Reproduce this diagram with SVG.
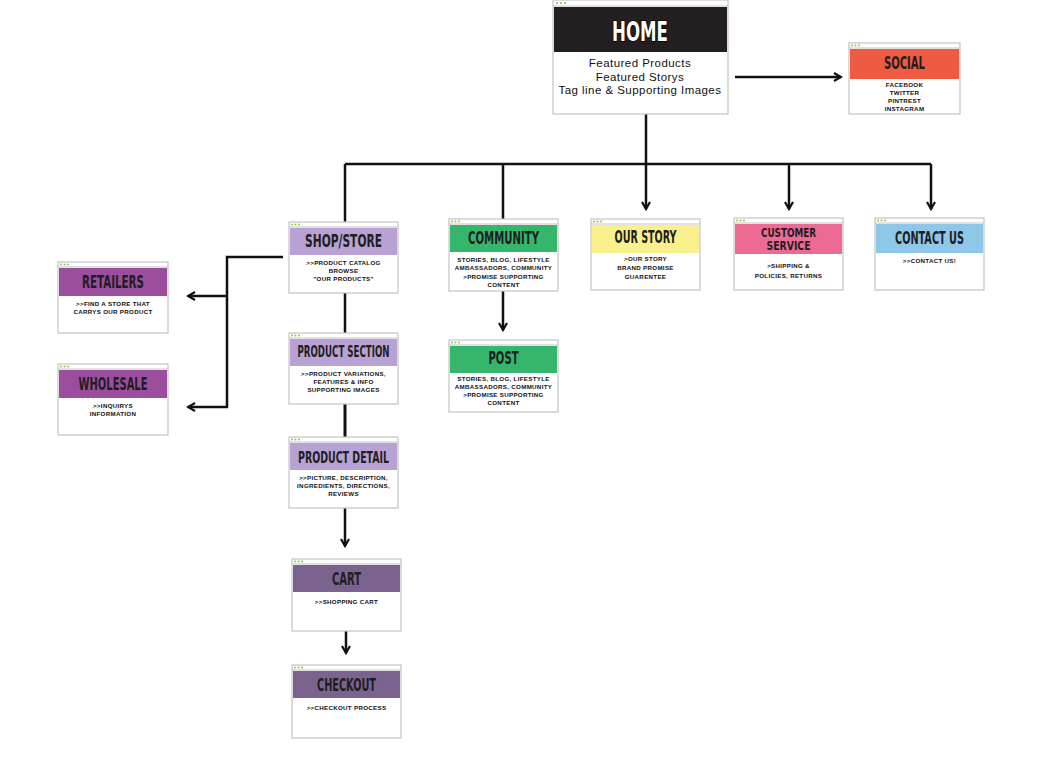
<svg xmlns="http://www.w3.org/2000/svg" width="1048" height="766" viewBox="0 0 1048 766">
<defs>
<marker id="arr" viewBox="0 0 10 10" refX="8" refY="5" markerWidth="10" markerHeight="10" markerUnits="userSpaceOnUse" orient="auto">
<path d="M1,1 L8,5 L1,9" fill="none" stroke="#111" stroke-width="2.2"/>
</marker>
</defs>
<style>
.box{fill:#fff;stroke:#c4c4c4;stroke-width:1.2}
.strip{stroke:#c4c4c4;stroke-width:1}
.dot{fill:#8cc63f}
.ttl{font-family:"Liberation Sans Narrow","DejaVu Sans Condensed","Liberation Sans",sans-serif;font-weight:bold;fill:#1e1e1e;text-anchor:middle;dominant-baseline:central}
.body{font-family:"Liberation Sans","DejaVu Sans",sans-serif;font-weight:bold;font-size:6.2px;letter-spacing:0.3px;fill:#111;text-anchor:middle;dominant-baseline:central}
.hb{font-family:"Liberation Sans","DejaVu Sans",sans-serif;font-size:11.5px;letter-spacing:0.45px;fill:#111;text-anchor:middle;dominant-baseline:central}
.con{fill:none;stroke:#111;stroke-width:2.5}
</style>
<rect width="1048" height="766" fill="#fff"/>

<g id="connectors">
<path class="con" d="M735,77 H841" marker-end="url(#arr)"/>
<path class="con" d="M646,114 V164"/>
<path class="con" d="M345,164 H931"/>
<path class="con" d="M345,164 V222"/>
<path class="con" d="M503,164 V219"/>
<path class="con" d="M646,164 V209" marker-end="url(#arr)"/>
<path class="con" d="M789,164 V209" marker-end="url(#arr)"/>
<path class="con" d="M931,164 V209" marker-end="url(#arr)"/>
<path class="con" d="M345,293 V333"/>
<path class="con" d="M345,404 V437" style="stroke-width:3"/>
<path class="con" d="M345,508 V546" marker-end="url(#arr)"/>
<path class="con" d="M346,614 V653" marker-end="url(#arr)"/>
<path class="con" d="M503,291 V330" marker-end="url(#arr)"/>
<path class="con" d="M283,257 H227 V407 H188" marker-end="url(#arr)"/>
<path class="con" d="M227,296 H188" marker-end="url(#arr)"/>
</g>

<g id="home">
<rect class="box" x="553" y="0" width="175" height="114"/>
<line class="strip" x1="553" y1="6" x2="728" y2="6"/>
<circle class="dot" cx="557" cy="3" r="1.1"/><circle class="dot" cx="561" cy="3" r="1.1"/><circle class="dot" cx="565" cy="3" r="1.1"/>
<rect x="554" y="7" width="173" height="45" fill="#231f20"/>
<text class="ttl" x="640" y="31" font-size="27" textLength="56" lengthAdjust="spacingAndGlyphs" style="fill:#fff;stroke:#000;stroke-width:1.5;paint-order:stroke">HOME</text>
<text class="hb" x="640" y="63">Featured Products</text>
<text class="hb" x="640" y="77">Featured Storys</text>
<text class="hb" x="640" y="90">Tag line &amp; Supporting Images</text>
</g>

<g id="social">
<rect class="box" x="849" y="43" width="111" height="71"/>
<line class="strip" x1="849" y1="48" x2="960" y2="48"/>
<circle class="dot" cx="852" cy="45.5" r="1"/><circle class="dot" cx="855.5" cy="45.5" r="1"/><circle class="dot" cx="859" cy="45.5" r="1"/>
<rect x="850" y="49" width="109" height="30" fill="#ee5a42"/>
<text class="ttl" x="904.5" y="63" font-size="17" textLength="41" lengthAdjust="spacingAndGlyphs">SOCIAL</text>
<text class="body" x="904.5" y="84">FACEBOOK</text>
<text class="body" x="904.5" y="92">TWITTER</text>
<text class="body" x="904.5" y="100">PINTREST</text>
<text class="body" x="904.5" y="108">INSTAGRAM</text>
</g>

<g id="shop">
<rect class="box" x="289" y="222" width="109" height="71"/>
<line class="strip" x1="289" y1="227" x2="398" y2="227"/>
<circle class="dot" cx="292" cy="224.5" r="1"/><circle class="dot" cx="295.5" cy="224.5" r="1"/><circle class="dot" cx="299" cy="224.5" r="1"/>
<rect x="290" y="228" width="107" height="27" fill="#b7a2d3"/>
<text class="ttl" x="343.5" y="240" font-size="18" textLength="77" lengthAdjust="spacingAndGlyphs">SHOP/STORE</text>
<text class="body" x="343.5" y="262">&gt;&gt;PRODUCT CATALOG</text>
<text class="body" x="343.5" y="270">BROWSE</text>
<text class="body" x="343.5" y="278">"OUR PRODUCTS"</text>
</g>

<g id="community">
<rect class="box" x="449" y="219" width="109" height="72"/>
<line class="strip" x1="449" y1="224" x2="558" y2="224"/>
<circle class="dot" cx="452" cy="221.5" r="1"/><circle class="dot" cx="455.5" cy="221.5" r="1"/><circle class="dot" cx="459" cy="221.5" r="1"/>
<rect x="450" y="225" width="107" height="27" fill="#36b56d"/>
<text class="ttl" x="503.5" y="238" font-size="17" textLength="71" lengthAdjust="spacingAndGlyphs">COMMUNITY</text>
<text class="body" x="503.5" y="259">STORIES, BLOG, LIFESTYLE</text>
<text class="body" x="503.5" y="267.5">AMBASSADORS, COMMUNITY</text>
<text class="body" x="503.5" y="276">&gt;PROMISE SUPPORTING</text>
<text class="body" x="503.5" y="284">CONTENT</text>
</g>

<g id="ourstory">
<rect class="box" x="591" y="219" width="109" height="71"/>
<line class="strip" x1="591" y1="224" x2="700" y2="224"/>
<circle class="dot" cx="594" cy="221.5" r="1"/><circle class="dot" cx="597.5" cy="221.5" r="1"/><circle class="dot" cx="601" cy="221.5" r="1"/>
<rect x="592" y="225" width="107" height="28" fill="#faf08d"/>
<text class="ttl" x="645.5" y="237" font-size="17" textLength="62" lengthAdjust="spacingAndGlyphs">OUR STORY</text>
<text class="body" x="645.5" y="258">&gt;OUR STORY</text>
<text class="body" x="645.5" y="267">BRAND PROMISE</text>
<text class="body" x="645.5" y="276">GUARENTEE</text>
</g>

<g id="customerservice">
<rect class="box" x="734" y="218" width="109" height="72"/>
<line class="strip" x1="734" y1="223" x2="843" y2="223"/>
<circle class="dot" cx="737" cy="220.5" r="1"/><circle class="dot" cx="740.5" cy="220.5" r="1"/><circle class="dot" cx="744" cy="220.5" r="1"/>
<rect x="735" y="224" width="107" height="30" fill="#ec6a93"/>
<text class="ttl" x="788.5" y="232.5" font-size="12.5" textLength="55" lengthAdjust="spacingAndGlyphs">CUSTOMER</text>
<text class="ttl" x="788.5" y="245.5" font-size="12.5" textLength="44" lengthAdjust="spacingAndGlyphs">SERVICE</text>
<text class="body" x="788.5" y="265">&gt;SHIPPING &amp;</text>
<text class="body" x="788.5" y="275">POLICIES, RETURNS</text>
</g>

<g id="contactus">
<rect class="box" x="875" y="218" width="109" height="72"/>
<line class="strip" x1="875" y1="223" x2="984" y2="223"/>
<circle class="dot" cx="878" cy="220.5" r="1"/><circle class="dot" cx="881.5" cy="220.5" r="1"/><circle class="dot" cx="885" cy="220.5" r="1"/>
<rect x="876" y="224" width="107" height="29" fill="#8fc7e9"/>
<text class="ttl" x="929.5" y="238" font-size="17" textLength="69" lengthAdjust="spacingAndGlyphs">CONTACT US</text>
<text class="body" x="929.5" y="260">&gt;&gt;CONTACT US!</text>
</g>

<g id="retailers">
<rect class="box" x="58" y="262" width="110" height="71"/>
<line class="strip" x1="58" y1="267" x2="168" y2="267"/>
<circle class="dot" cx="61" cy="264.5" r="1"/><circle class="dot" cx="64.5" cy="264.5" r="1"/><circle class="dot" cx="68" cy="264.5" r="1"/>
<rect x="59" y="268" width="108" height="28" fill="#9b4e9e"/>
<text class="ttl" x="113" y="282" font-size="17" textLength="62" lengthAdjust="spacingAndGlyphs">RETAILERS</text>
<text class="body" x="113" y="303">&gt;&gt;FIND A STORE THAT</text>
<text class="body" x="113" y="311">CARRYS OUR PRODUCT</text>
</g>

<g id="wholesale">
<rect class="box" x="58" y="364" width="110" height="71"/>
<line class="strip" x1="58" y1="369" x2="168" y2="369"/>
<circle class="dot" cx="61" cy="366.5" r="1"/><circle class="dot" cx="64.5" cy="366.5" r="1"/><circle class="dot" cx="68" cy="366.5" r="1"/>
<rect x="59" y="370" width="108" height="28" fill="#9b4e9e"/>
<text class="ttl" x="113" y="384" font-size="17" textLength="69" lengthAdjust="spacingAndGlyphs">WHOLESALE</text>
<text class="body" x="113" y="405">&gt;&gt;INQUIRYS</text>
<text class="body" x="113" y="413">INFORMATION</text>
</g>

<g id="productsection">
<rect class="box" x="289" y="333" width="109" height="71"/>
<line class="strip" x1="289" y1="338" x2="398" y2="338"/>
<circle class="dot" cx="292" cy="335.5" r="1"/><circle class="dot" cx="295.5" cy="335.5" r="1"/><circle class="dot" cx="299" cy="335.5" r="1"/>
<rect x="290" y="339" width="107" height="27" fill="#b7a2d3"/>
<text class="ttl" x="343.5" y="351" font-size="16" textLength="92" lengthAdjust="spacingAndGlyphs">PRODUCT SECTION</text>
<text class="body" x="343.5" y="373">&gt;&gt;PRODUCT VARIATIONS,</text>
<text class="body" x="343.5" y="381">FEATURES &amp; INFO</text>
<text class="body" x="343.5" y="389">SUPPORTING IMAGES</text>
</g>

<g id="productdetail">
<rect class="box" x="289" y="437" width="109" height="71"/>
<line class="strip" x1="289" y1="442" x2="398" y2="442"/>
<circle class="dot" cx="292" cy="439.5" r="1"/><circle class="dot" cx="295.5" cy="439.5" r="1"/><circle class="dot" cx="299" cy="439.5" r="1"/>
<rect x="290" y="443" width="107" height="27" fill="#b7a2d3"/>
<text class="ttl" x="343.5" y="457" font-size="16" textLength="91" lengthAdjust="spacingAndGlyphs">PRODUCT DETAIL</text>
<text class="body" x="343.5" y="477">&gt;&gt;PICTURE, DESCRIPTION,</text>
<text class="body" x="343.5" y="485">INGREDIENTS, DIRECTIONS,</text>
<text class="body" x="343.5" y="493">REVIEWS</text>
</g>

<g id="post">
<rect class="box" x="449" y="340" width="109" height="72"/>
<line class="strip" x1="449" y1="345" x2="558" y2="345"/>
<circle class="dot" cx="452" cy="342.5" r="1"/><circle class="dot" cx="455.5" cy="342.5" r="1"/><circle class="dot" cx="459" cy="342.5" r="1"/>
<rect x="450" y="346" width="107" height="27" fill="#36b56d"/>
<text class="ttl" x="503.5" y="358" font-size="17" textLength="30" lengthAdjust="spacingAndGlyphs">POST</text>
<text class="body" x="503.5" y="378.5">STORIES, BLOG, LIFESTYLE</text>
<text class="body" x="503.5" y="386.5">AMBASSADORS, COMMUNITY</text>
<text class="body" x="503.5" y="394.5">&gt;PROMISE SUPPORTING</text>
<text class="body" x="503.5" y="402.5">CONTENT</text>
</g>

<g id="cart">
<rect class="box" x="292" y="559" width="109" height="72"/>
<line class="strip" x1="292" y1="564" x2="401" y2="564"/>
<circle class="dot" cx="295" cy="561.5" r="1"/><circle class="dot" cx="298.5" cy="561.5" r="1"/><circle class="dot" cx="302" cy="561.5" r="1"/>
<rect x="293" y="565" width="107" height="27" fill="#7b6390"/>
<text class="ttl" x="346.5" y="579" font-size="17" textLength="29" lengthAdjust="spacingAndGlyphs">CART</text>
<text class="body" x="346.5" y="601">&gt;&gt;SHOPPING CART</text>
</g>

<g id="checkout">
<rect class="box" x="292" y="665" width="109" height="73"/>
<line class="strip" x1="292" y1="670" x2="401" y2="670"/>
<circle class="dot" cx="295" cy="667.5" r="1"/><circle class="dot" cx="298.5" cy="667.5" r="1"/><circle class="dot" cx="302" cy="667.5" r="1"/>
<rect x="293" y="671" width="107" height="27" fill="#7b6390"/>
<text class="ttl" x="346.5" y="685" font-size="17" textLength="59" lengthAdjust="spacingAndGlyphs">CHECKOUT</text>
<text class="body" x="346.5" y="707">&gt;&gt;CHECKOUT PROCESS</text>
</g>
</svg>
